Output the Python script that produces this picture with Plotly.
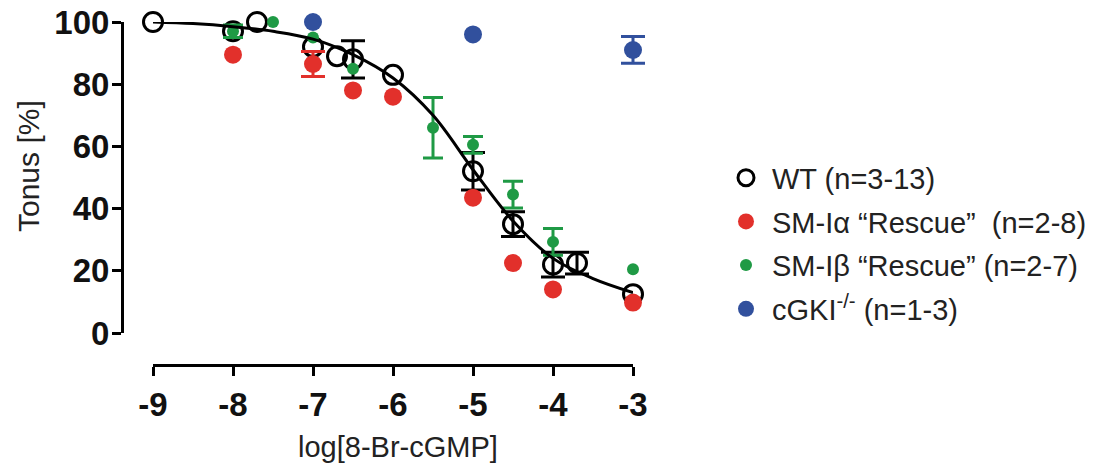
import plotly.graph_objects as go

# ---- data ----
wt_x = [-9, -8, -7.7, -7, -6.7, -6.5, -6, -5, -4.5, -4, -3.7, -3]
wt_y = [100, 97, 100, 92, 89, 88, 83, 52, 35, 22, 22.5, 12.5]
wt_err_x = [-6.5, -5, -4.5, -4, -3.7]
wt_err_y = [88, 52, 35, 22, 22.5]
wt_err = [6, 6, 4, 4, 3.5]

ra_x = [-8, -7, -6.5, -6, -5, -4.5, -4, -3]
ra_y = [89.5, 86.5, 78, 76, 43.5, 22.5, 14, 9.8]
ra_err_x = [-7]
ra_err_y = [86.5]
ra_err = [4]

rb_x = [-8, -7.5, -7, -6.5, -5.5, -5, -4.5, -4, -3]
rb_y = [97, 100, 95, 85, 66, 60.5, 44.5, 29.3, 20.5]
rb_err_x = [-8, -5.5, -5, -4.5, -4]
rb_err_y = [97, 66, 60.5, 44.5, 29.3]
rb_err = [2, 9.7, 2.7, 4.3, 4.3]

ko_x = [-7, -5, -3]
ko_y = [100, 96, 91]
ko_err_x = [-3]
ko_err_y = [91]
ko_err = [4.3]

fit_x = [-9, -8.5, -8, -7.5, -7, -6.5, -6, -5.5, -5, -4.5, -4, -3.5, -3]
fit_y = [100, 99.5, 98.5, 97, 94.5, 89.5, 82, 70, 52.5, 36, 24, 17.5, 13]

x_ticks = [-9, -8, -7, -6, -5, -4, -3]
y_ticks = [0, 20, 40, 60, 80, 100]

x_title = "log[8-Br-cGMP]"
y_title = "Tonus [%]"
labels = ["WT (n=3-13)",
          "SM-Iα “Rescue”\u00a0\u00a0(n=2-8)",
          "SM-Iβ “Rescue” (n=2-7)",
          "cGKI<sup>-/-</sup> (n=1-3)"]

RED = "#e2302b"
GREEN = "#1f9a45"
BLUE = "#31509d"

# ---- geometry (screen pixels; page body adds an 8px offset) ----
OFF = 8
W, H = 1100, 464
PL, PR, PT, PB = 122 - OFF, 660 - OFF, 22 - OFF, 365 - OFF   # paper box
X0PX, X1PX = 153 - OFF, 633 - OFF                            # x=-9 and x=-3
Y0PX = 333 - OFF                                             # y=0
PAD = 0.25
pw = PR - PL
ph = PB - PT
ppu = (X1PX - X0PX) / (x_ticks[-1] - x_ticks[0])
dom_show = [(X0PX - PL) / pw, (X1PX - PL) / pw]
dom_data = [(X0PX - PAD * ppu - PL) / pw, (X1PX + PAD * ppu - PL) / pw]
ydom = [(PB - Y0PX) / ph, 1]
yrange = [y_ticks[0], y_ticks[-1]]

fig = go.Figure()

# fitted curve (on the displayed x axis / twin y axis, which map identically)
fig.add_trace(go.Scatter(x=fit_x, y=fit_y, mode="lines", xaxis="x2", yaxis="y2",
                         line=dict(color="black", width=3, shape="spline"),
                         showlegend=False, hoverinfo="skip", cliponaxis=False))


def err_trace(x, y, e, color, w):
    return go.Scatter(x=x, y=y, mode="markers",
                      marker=dict(size=1, opacity=0),
                      error_y=dict(type="data", array=e, visible=True,
                                   thickness=3, width=w, color=color),
                      showlegend=False, hoverinfo="skip", cliponaxis=False)


fig.add_trace(err_trace(wt_err_x, wt_err_y, wt_err, "black", 12))
fig.add_trace(go.Scatter(x=wt_x, y=wt_y, mode="markers", name=labels[0],
                         legendgroup="a",
                         marker=dict(symbol="circle-open", size=19, color="black",
                                     line=dict(width=3, color="black")),
                         cliponaxis=False))
fig.add_trace(err_trace(ra_err_x, ra_err_y, ra_err, RED, 12))
fig.add_trace(go.Scatter(x=ra_x, y=ra_y, mode="markers", name=labels[1],
                         legendgroup="b",
                         marker=dict(symbol="circle", size=18, color=RED),
                         cliponaxis=False))
fig.add_trace(err_trace(rb_err_x, rb_err_y, rb_err, GREEN, 10))
fig.add_trace(go.Scatter(x=rb_x, y=rb_y, mode="markers", name=labels[2],
                         legendgroup="c",
                         marker=dict(symbol="circle", size=12, color=GREEN),
                         cliponaxis=False))
fig.add_trace(err_trace(ko_err_x, ko_err_y, ko_err, BLUE, 12))
fig.add_trace(go.Scatter(x=ko_x, y=ko_y, mode="markers", name=labels[3],
                         legendgroup="d",
                         marker=dict(symbol="circle", size=18, color=BLUE),
                         cliponaxis=False))

tickfont = dict(family="Liberation Sans, Arial", size=33, color="#111", weight="bold")
titlefont = dict(family="Liberation Sans, Arial", size=29, color="#222")

fig.update_layout(
    width=W, height=H,
    margin=dict(l=PL, r=W - PR, t=PT, b=H - PB),
    plot_bgcolor="rgba(0,0,0,0)", paper_bgcolor="white",
    # data axis (hidden, slightly wider range so caps are not clipped)
    xaxis=dict(range=[x_ticks[0] - PAD, x_ticks[-1] + PAD], domain=dom_data,
               anchor="y", visible=False, showgrid=False, zeroline=False),
    # displayed x axis
    xaxis2=dict(range=[x_ticks[0], x_ticks[-1]], domain=dom_show,
                anchor="free", position=0, automargin=False,
                tickvals=x_ticks, ticktext=[str(v) for v in x_ticks],
                showline=True, linewidth=3, linecolor="black",
                ticks="outside", ticklen=9, tickwidth=3, tickcolor="black",
                ticklabeloverflow="allow",
                showgrid=False, zeroline=False, tickfont=tickfont),
    # displayed y axis
    yaxis=dict(range=yrange, domain=ydom, anchor="free", position=0,
               automargin=False, tickvals=y_ticks,
               showline=True, linewidth=3, linecolor="black",
               ticks="outside", ticklen=9, tickwidth=3, tickcolor="black",
               ticklabelstandoff=-4, ticklabeloverflow="allow",
               showgrid=False, zeroline=False, tickfont=tickfont),
    # hidden twin y axis for the displayed x axis' subplot
    yaxis2=dict(range=yrange, domain=ydom, anchor="free", position=0,
                visible=False, showgrid=False, zeroline=False),
    annotations=[
        dict(text=x_title, xref="paper", yref="paper",
             x=(398 - OFF - PL) / pw, y=(PB - (447 - OFF)) / ph,
             xanchor="center", yanchor="middle", showarrow=False, font=titlefont),
        dict(text=y_title, xref="paper", yref="paper", textangle=-90,
             x=(28 - OFF - PL) / pw, y=(PB - (166 - OFF)) / ph,
             xanchor="center", yanchor="middle", showarrow=False,
             font=dict(family="Liberation Sans, Arial", size=30, color="#222")),
    ],
    legend=dict(x=(720 - OFF - PL) / pw, xanchor="left", y=0.62, yanchor="top",
                font=dict(family="Liberation Sans, Arial", size=29, color="#222"),
                tracegroupgap=3, traceorder="grouped", itemwidth=42,
                bgcolor="rgba(0,0,0,0)"),
    showlegend=True,
)

fig.write_html("out.html")
